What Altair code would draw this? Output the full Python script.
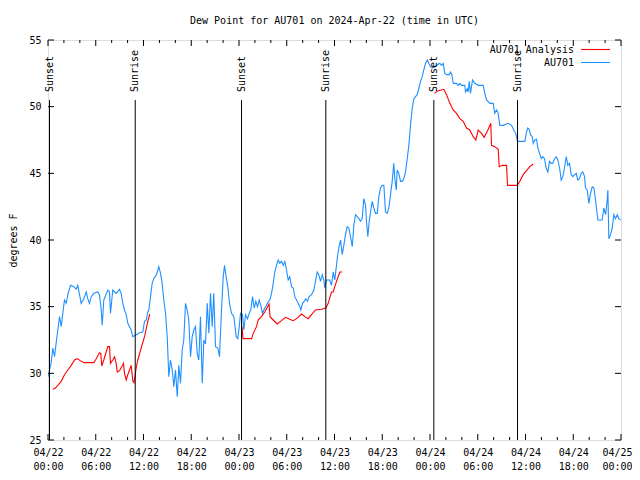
import altair as alt
import pandas as pd

TITLE = "Dew Point for AU701 on 2024-Apr-22 (time in UTC)"
SERIES = ["AU701 Analysis", "AU701"]
COLORS = ["#ff0000", "#1e90ff"]
START = "2024-04-22T00:00:00Z"
FONT = "DejaVu Sans Mono"

# AU701 observations: hours since 04/22 00:00 UTC, dew point (F)
obs_hours = [0.06, 0.19, 0.40, 0.60, 0.82, 1.03, 1.23, 1.45, 1.66, 1.86, 2.07, 2.29, 2.49, 2.83, 3.24, 3.54, 3.74, 3.96,
             4.17, 4.50, 4.80, 5.00, 5.21, 5.43, 5.76, 6.26, 6.47, 6.69, 6.81, 7.01, 7.51, 7.73, 7.85, 8.14, 8.57, 8.98,
             9.20, 9.40, 9.61, 9.83, 10.03, 10.24, 10.45, 10.66, 11.08, 11.50, 11.91, 12.13, 12.34, 12.54, 12.67, 12.88,
             13.09, 13.29, 13.63, 13.92, 14.14, 14.35, 14.55, 14.77, 14.98, 15.18, 15.39, 15.61, 15.81, 16.02, 16.24,
             16.44, 16.65, 16.86, 17.06, 17.28, 17.49, 17.69, 17.91, 18.12, 18.32, 18.53, 18.75, 18.95, 19.16, 19.38,
             19.58, 19.79, 20.01, 20.21, 20.42, 20.63, 20.83, 21.05, 21.34, 21.55, 21.80, 22.02, 22.18, 22.34, 22.59,
             22.81, 23.06, 23.35, 23.65, 23.85, 24.03, 24.19, 24.44, 24.60, 24.82, 25.07, 25.28, 25.48, 25.70, 25.91,
             26.11, 26.33, 26.54, 26.74, 26.95, 27.24, 27.46, 27.67, 27.87, 28.09, 28.30, 28.50, 28.71, 28.93, 29.13,
             29.34, 29.56, 29.76, 29.97, 30.18, 30.38, 30.60, 30.81, 31.01, 31.23, 31.44, 31.64, 31.77, 31.98, 32.19,
             32.40, 32.61, 32.82, 33.11, 33.40, 33.61, 33.83, 34.03, 34.24, 34.46, 34.66, 34.78, 35.00, 35.41, 35.62,
             35.84, 36.04, 36.34, 36.54, 36.76, 36.97, 37.17, 37.38, 37.60, 37.80, 38.01, 38.23, 38.43, 38.64, 38.86,
             39.06, 39.27, 39.48, 39.68, 39.90, 40.02, 40.19, 40.36, 40.53, 40.74, 40.94, 41.15, 41.37, 41.57, 41.78,
             42.00, 42.20, 42.41, 42.62, 42.83, 43.04, 43.25, 43.45, 43.58, 43.76, 43.88, 44.08, 44.30, 44.51, 44.71,
             44.92, 45.14, 45.34, 45.55, 45.77, 45.97, 46.18, 46.39, 46.60, 46.81, 47.02, 47.22, 47.44, 47.65, 47.85,
             48.07, 48.28, 48.48, 48.82, 49.23, 49.45, 49.66, 49.86, 50.08, 50.42, 50.58, 50.74, 50.92, 51.33, 51.55,
             51.75, 51.96, 52.37, 52.46, 52.68, 52.80, 52.93, 53.09, 53.34, 53.63, 54.06, 54.47, 54.69, 54.89, 55.10,
             55.52, 55.94, 56.14, 56.36, 56.57, 56.77, 57.20, 57.83, 58.24, 58.53, 58.78, 59.00, 59.41, 59.92, 60.13,
             60.29, 60.47, 60.63, 60.85, 60.97, 61.17, 61.39, 61.55, 61.76, 61.98, 62.18, 62.39, 62.60, 62.81, 63.02,
             63.23, 63.43, 63.65, 63.86, 64.06, 64.28, 64.49, 64.69, 64.90, 65.12, 65.32, 65.53, 65.75, 65.95, 66.16,
             66.37, 66.57, 66.79, 67.00, 67.20, 67.42, 67.54, 67.76, 67.96, 68.17, 68.39, 68.59, 68.80, 69.09, 69.64,
             69.84, 70.06, 70.27, 70.35, 70.47, 70.68, 70.90, 71.10, 71.31, 71.53, 71.73, 71.94]
obs_values = [29.75, 30.25, 30.8, 31.9, 31.25, 32.3, 33.25, 34.25, 33.5, 34.5, 35.5, 35.25, 35.9, 36.6, 36.5, 36.3, 36.6, 35.9,
              35.25, 35.6, 36.1, 35.6, 35.25, 35.75, 36.0, 36.1, 35.9, 34.75, 33.6, 35.5, 36.25, 36.1, 34.5, 36.25, 36.0, 36.3,
              36.0, 35.25, 34.75, 34.4, 33.75, 33.5, 33.25, 32.75, 32.9, 33.05, 33.1, 33.9, 34.0, 34.6, 34.75, 35.75,
              36.75, 37.1, 37.4, 38.0, 37.5, 36.75, 35.5, 34.5, 32.75, 29.75, 31.0, 30.25, 29.0, 30.25, 28.25,
              30.6, 29.25, 31.75, 32.5, 35.25, 34.75, 34.0, 31.25, 32.75, 33.25, 33.5, 31.5, 31.0, 34.25, 29.25,
              32.5, 32.2, 35.25, 33.0, 36.0, 33.5, 36.0, 32.0, 31.9, 31.25, 34.75, 37.25, 38.1, 37.4, 36.5,
              35.25, 34.5, 34.25, 32.75, 32.6, 33.5, 34.5, 34.4, 33.25, 34.4, 34.1, 34.5, 34.75, 35.75, 34.9,
              35.4, 35.0, 35.5, 35.1, 34.5, 34.9, 35.1, 35.4, 35.5, 36.0, 36.75, 37.6, 38.1, 38.5, 38.25,
              38.4, 38.1, 38.4, 37.75, 37.0, 37.25, 36.5, 36.4, 35.75, 35.5, 35.25, 35.0, 34.75, 35.25, 35.4,
              35.6, 35.4, 35.75, 35.9, 36.25, 36.9, 37.6, 37.4, 36.9, 37.4, 37.0, 36.4, 37.0, 37.0, 36.6,
              37.6, 37.0, 38.6, 39.4, 40.0, 38.9, 39.6, 40.4, 41.0, 40.9, 40.25, 39.5, 41.1, 41.9, 41.75,
              41.6, 41.4, 41.6, 43.1, 42.6, 41.4, 40.25, 41.4, 42.1, 42.9, 42.4, 42.0, 42.0, 43.25, 43.9,
              44.1, 44.1, 42.1, 42.0, 42.4, 43.4, 44.4, 45.75, 44.6, 43.75, 45.25, 45.0, 44.4, 44.4, 44.6,
              45.1, 46.1, 47.1, 48.6, 49.9, 50.6, 50.75, 50.9, 51.4, 51.9, 52.25, 52.75, 53.25, 53.5, 53.25,
              53.0, 52.9, 53.0, 53.1, 53.25, 53.1, 53.25, 52.5, 52.4, 52.4, 52.6, 52.4, 51.75, 51.75, 51.6,
              51.75, 51.6, 51.6, 51.1, 51.35, 51.1, 51.9, 51.0, 52.0, 51.75, 51.6, 51.6, 51.6, 51.0, 50.5,
              50.25, 50.25, 49.5, 49.75, 49.5, 48.6, 48.6, 48.75, 48.6, 48.25, 48.0, 47.4, 47.4, 47.4, 48.1,
              48.4, 48.3, 47.9, 47.75, 47.25, 47.5, 47.55, 46.9, 46.5, 46.1, 46.25, 46.1, 45.4, 45.1, 45.9,
              45.75, 45.75, 46.1, 46.25, 46.0, 45.4, 44.5, 44.75, 45.4, 46.25, 45.6, 45.75, 44.9, 44.75, 44.9,
              45.0, 44.5, 44.6, 45.0, 45.1, 44.75, 43.9, 43.75, 42.75, 43.5, 44.0, 43.9, 43.0, 41.5, 41.5,
              42.4, 41.9, 43.0, 43.75, 40.1, 40.4, 40.9, 41.9, 41.6, 41.9, 41.6, 41.5]

# AU701 Analysis, three separate pieces
ana_hours = [
    [0.60, 0.94, 1.23, 1.66, 2.07, 2.49, 2.92, 3.33, 3.67, 4.17, 4.59, 5.43, 5.76, 6.06, 6.47, 6.63, 6.76, 7.01,
     7.31, 7.51, 7.73, 7.85, 8.14, 8.36, 8.57, 8.70, 8.98, 9.27, 9.49, 9.61, 9.83, 10.03, 10.24, 10.45, 10.66,
     10.81, 11.08, 11.28, 11.71, 12.13, 12.54, 12.79],
    [24.38, 24.50, 25.57, 25.79, 26.20, 26.41, 26.83, 27.24, 27.77, 27.90, 28.30, 28.80, 29.34, 29.84, 30.38,
     30.81, 31.23, 31.86, 32.27, 32.70, 33.11, 33.61, 34.37, 34.91, 35.21, 35.62, 35.84, 36.04, 36.25, 36.67, 36.97],
    [48.57, 49.03, 49.45, 49.74, 50.08, 50.49, 50.92, 51.33, 51.75, 52.17, 52.59, 53.00, 53.43, 53.76, 54.06,
     54.47, 54.81, 55.23, 55.64, 55.73, 56.14, 56.57, 56.70, 57.11, 57.62, 57.74, 58.96, 59.29, 59.71, 60.13,
     60.54, 60.97],
]
ana_values = [
    [28.8, 28.9, 29.1, 29.4, 29.9, 30.25, 30.6, 31.0, 31.1, 30.9, 30.8, 30.8, 30.8, 31.1, 31.55, 31.5, 30.55, 31.0,
     31.6, 32.0, 32.0, 30.75, 31.0, 31.25, 30.75, 30.1, 30.2, 30.5, 30.75, 30.0, 29.5, 29.9, 30.25, 30.6, 29.4,
     29.3, 30.4, 31.0, 31.9, 32.75, 33.9, 34.45],
    [33.5, 32.6, 32.6, 33.0, 33.5, 34.0, 34.25, 34.6, 35.2, 34.25, 34.0, 33.7, 33.95, 34.2, 34.05,
     33.95, 34.1, 34.45, 34.25, 34.1, 34.4, 34.75, 34.8, 34.9, 35.25, 36.1, 36.1, 36.5, 36.9, 37.6, 37.6],
    [51.0, 51.2, 51.25, 51.3, 50.9, 50.25, 49.75, 49.5, 49.1, 48.9, 48.4, 48.25, 47.75, 47.5, 48.25,
     48.0, 47.7, 48.2, 48.75, 47.1, 47.0, 46.8, 45.5, 45.6, 45.6, 44.1, 44.1, 44.4, 44.9, 45.2,
     45.5, 45.7],
]

sun_hours = [0.19, 10.96, 24.32, 34.91, 48.48, 59.00]
sun_labels = ["Sunset", "Sunrise", "Sunset", "Sunrise", "Sunset", "Sunrise"]

y_ticks = [25, 30, 35, 40, 45, 50, 55]
x_major_hours = list(range(0, 73, 6))
x_minor_hours = [h for h in range(0, 73, 2) if h % 6 != 0]

# ---- layout/style constants ----
W, H = 573, 400
TICK, MINOR = 6, 3
SUN_TOP, SUN_TEXT = 50.5, 51.1

base = pd.Timestamp(START)


def iso(h):
    return (base + pd.to_timedelta(h, unit="h")).strftime("%Y-%m-%dT%H:%M:%SZ")


def ms(h):
    return int((base + pd.to_timedelta(h, unit="h")).value // 10**6)


rows = []
for h, v in zip(obs_hours, obs_values):
    rows.append({"t": iso(h), "v": v, "series": SERIES[1], "seg": "obs"})
for i, (hs, vs) in enumerate(zip(ana_hours, ana_values)):
    for h, v in zip(hs, vs):
        rows.append({"t": iso(h), "v": v, "series": SERIES[0], "seg": f"ana{i}"})
df = pd.DataFrame(rows)

sun_df = pd.DataFrame({"t": [iso(h) for h in sun_hours], "label": sun_labels})
ytick_df = pd.DataFrame({"v": y_ticks})
xmaj_df = pd.DataFrame({"t": [iso(h) for h in x_major_hours]})
xmin_df = pd.DataFrame({"t": [iso(h) for h in x_minor_hours]})

xscale = alt.Scale(type="utc", domain=[ms(0), ms(72)], nice=False)
yscale = alt.Scale(domain=[25, 55], nice=False, zero=False)

last_ms = ms(x_major_hours[-1])
x_axis = alt.Axis(
    values=[ms(h) for h in x_major_hours],
    labelExpr="[utcFormat(datum.value, '%m/%d'), utcFormat(datum.value, '%H:%M')]",
    title=None, ticks=False, domain=False, grid=False, labelPadding=7,
    labelFont=FONT, labelFontSize=10, labelColor="black", labelLineHeight=14,
    labelAngle=0, labelOverlap=False, labelFlush=False, labelBaseline="top",
    labelOffset={"condition": {"test": f"datum.value >= {last_ms}", "value": -4}, "value": 0},
)
y_axis = alt.Axis(
    values=y_ticks, title="degrees F", ticks=False, domain=False, grid=False,
    labelPadding=7, labelFont=FONT, labelFontSize=10, labelColor="black",
    titleFont=FONT, titleFontSize=10, titleFontWeight="normal", titleColor="black",
    titleX=-35, titleY=H / 2, titleAngle=270, titleAlign="center", titleBaseline="middle",
)

lines = alt.Chart(df).mark_line(strokeWidth=1.1, clip=True).encode(
    x=alt.X("t:T", scale=xscale, axis=x_axis),
    y=alt.Y("v:Q", scale=yscale, axis=y_axis),
    color=alt.Color("series:N", scale=alt.Scale(domain=SERIES, range=COLORS), legend=None),
    detail="seg:N",
)

sun_rules = alt.Chart(sun_df).mark_rule(color="black", strokeWidth=1).encode(
    x=alt.X("t:T", scale=xscale), y=alt.datum(SUN_TOP), y2=alt.datum(25)
)
sun_text = alt.Chart(sun_df).mark_text(
    angle=270, align="left", baseline="middle", font=FONT, fontSize=10, color="black"
).encode(x=alt.X("t:T", scale=xscale), y=alt.datum(SUN_TEXT), text="label:N")

yt_left = alt.Chart(ytick_df).mark_rule(color="black").encode(
    y=alt.Y("v:Q", scale=yscale), x=alt.value(0), x2=alt.value(TICK))
yt_right = alt.Chart(ytick_df).mark_rule(color="black").encode(
    y=alt.Y("v:Q", scale=yscale), x=alt.value(W - TICK), x2=alt.value(W))
xt_bot = alt.Chart(xmaj_df).mark_rule(color="black").encode(
    x=alt.X("t:T", scale=xscale), y=alt.value(H), y2=alt.value(H - TICK))
xt_top = alt.Chart(xmaj_df).mark_rule(color="black").encode(
    x=alt.X("t:T", scale=xscale), y=alt.value(0), y2=alt.value(TICK))
xm_bot = alt.Chart(xmin_df).mark_rule(color="black").encode(
    x=alt.X("t:T", scale=xscale), y=alt.value(H), y2=alt.value(H - MINOR))
xm_top = alt.Chart(xmin_df).mark_rule(color="black").encode(
    x=alt.X("t:T", scale=xscale), y=alt.value(0), y2=alt.value(MINOR))

legend_layers = []
for i, (name, col) in enumerate(zip(SERIES, COLORS)):
    ly = 9.5 + 13 * i
    ldf = pd.DataFrame({"series": [name]})
    legend_layers.append(
        alt.Chart(ldf).mark_text(align="right", baseline="middle", font=FONT, fontSize=10, color="black")
        .encode(x=alt.value(526), y=alt.value(ly), text="series:N")
    )
    legend_layers.append(
        alt.Chart(ldf).mark_rule(color=col, strokeWidth=1.1)
        .encode(x=alt.value(533), x2=alt.value(562), y=alt.value(ly))
    )

chart = alt.layer(
    lines, sun_rules, sun_text, yt_left, yt_right, xt_bot, xt_top, xm_bot, xm_top, *legend_layers
).properties(
    width=W, height=H,
    title=alt.TitleParams(text=TITLE, font=FONT, fontSize=10, fontWeight="normal", offset=9,
                          anchor="middle", color="black"),
    autosize=alt.AutoSizeParams(type="none"),
    padding={"left": 40, "top": 32, "right": 11, "bottom": 32},
).configure_view(stroke="black", strokeWidth=1).configure(background="white")

chart.save("out.html", embed_options={"renderer": "svg", "actions": False})
